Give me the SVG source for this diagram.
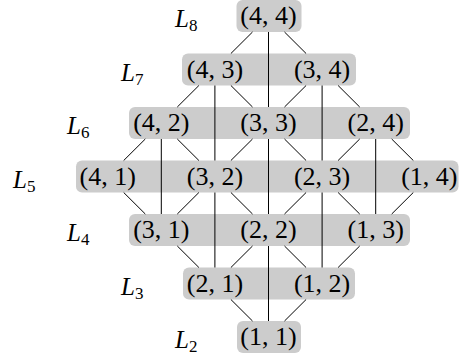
<svg xmlns="http://www.w3.org/2000/svg" width="459" height="360" viewBox="0 0 459 360">
<style>
.band{fill:#cccccc;}
.e{stroke:#000;stroke-width:1;fill:none;}
.t{font-family:"Liberation Serif","DejaVu Serif",serif;font-size:26px;text-anchor:middle;fill:#000;}
.lab{font-family:"Liberation Serif","DejaVu Serif",serif;font-size:25px;font-style:italic;fill:#000;}
.sub{font-size:17px;font-style:normal;}
</style>
<rect width="459" height="360" fill="#fff"/>
<g id="bands">
<rect class="band" x="236.5" y="0" width="65" height="32" rx="6"/>
<rect class="band" x="182" y="53.5" width="174" height="32" rx="6"/>
<rect class="band" x="129" y="107" width="281" height="32" rx="6"/>
<rect class="band" x="76" y="160.5" width="382.5" height="32" rx="6"/>
<rect class="band" x="129" y="214" width="281" height="32" rx="6"/>
<rect class="band" x="183" y="267.5" width="172" height="32" rx="6"/>
<rect class="band" x="237" y="321" width="64" height="32" rx="6"/>
</g>
<g id="connectors">
<line class="e" x1="252.5" y1="32" x2="230.9" y2="53.5"/>
<line class="e" x1="284.5" y1="32" x2="306.1" y2="53.5"/>
<line class="e" x1="268.5" y1="32" x2="268.5" y2="107"/>
<line class="e" x1="198.9" y1="85.5" x2="177.3" y2="107"/>
<line class="e" x1="230.9" y1="85.5" x2="252.5" y2="107"/>
<line class="e" x1="306.1" y1="85.5" x2="284.5" y2="107"/>
<line class="e" x1="338.1" y1="85.5" x2="359.7" y2="107"/>
<line class="e" x1="214.9" y1="85.5" x2="214.9" y2="160.5"/>
<line class="e" x1="322.1" y1="85.5" x2="322.1" y2="160.5"/>
<line class="e" x1="145.3" y1="139" x2="123.7" y2="160.5"/>
<line class="e" x1="177.3" y1="139" x2="198.9" y2="160.5"/>
<line class="e" x1="252.5" y1="139" x2="230.9" y2="160.5"/>
<line class="e" x1="284.5" y1="139" x2="306.1" y2="160.5"/>
<line class="e" x1="359.7" y1="139" x2="338.1" y2="160.5"/>
<line class="e" x1="391.7" y1="139" x2="413.3" y2="160.5"/>
<line class="e" x1="161.3" y1="139" x2="161.3" y2="214"/>
<line class="e" x1="268.5" y1="139" x2="268.5" y2="214"/>
<line class="e" x1="375.7" y1="139" x2="375.7" y2="214"/>
<line class="e" x1="123.7" y1="192.5" x2="145.3" y2="214"/>
<line class="e" x1="198.9" y1="192.5" x2="177.3" y2="214"/>
<line class="e" x1="230.9" y1="192.5" x2="252.5" y2="214"/>
<line class="e" x1="306.1" y1="192.5" x2="284.5" y2="214"/>
<line class="e" x1="338.1" y1="192.5" x2="359.7" y2="214"/>
<line class="e" x1="413.3" y1="192.5" x2="391.7" y2="214"/>
<line class="e" x1="214.9" y1="192.5" x2="214.9" y2="267.5"/>
<line class="e" x1="322.1" y1="192.5" x2="322.1" y2="267.5"/>
<line class="e" x1="177.3" y1="246" x2="198.9" y2="267.5"/>
<line class="e" x1="252.5" y1="246" x2="230.9" y2="267.5"/>
<line class="e" x1="284.5" y1="246" x2="306.1" y2="267.5"/>
<line class="e" x1="359.7" y1="246" x2="338.1" y2="267.5"/>
<line class="e" x1="268.5" y1="246" x2="268.5" y2="321"/>
<line class="e" x1="230.9" y1="299.5" x2="252.5" y2="321"/>
<line class="e" x1="306.1" y1="299.5" x2="284.5" y2="321"/>
</g>
<g id="n44"><text class="t" x="268.5" y="24">(4, 4)</text></g>
<g id="n43"><text class="t" x="214.9" y="77.5">(4, 3)</text></g>
<g id="n34"><text class="t" x="322.1" y="77.5">(3, 4)</text></g>
<g id="n42"><text class="t" x="161.3" y="131">(4, 2)</text></g>
<g id="n33"><text class="t" x="268.5" y="131">(3, 3)</text></g>
<g id="n24"><text class="t" x="375.7" y="131">(2, 4)</text></g>
<g id="n41"><text class="t" x="107.7" y="184.5">(4, 1)</text></g>
<g id="n32"><text class="t" x="214.9" y="184.5">(3, 2)</text></g>
<g id="n23"><text class="t" x="322.1" y="184.5">(2, 3)</text></g>
<g id="n14"><text class="t" x="429.3" y="184.5">(1, 4)</text></g>
<g id="n31"><text class="t" x="161.3" y="238">(3, 1)</text></g>
<g id="n22"><text class="t" x="268.5" y="238">(2, 2)</text></g>
<g id="n13"><text class="t" x="375.7" y="238">(1, 3)</text></g>
<g id="n21"><text class="t" x="214.9" y="291.5">(2, 1)</text></g>
<g id="n12"><text class="t" x="322.1" y="291.5">(1, 2)</text></g>
<g id="n11"><text class="t" x="268.5" y="345">(1, 1)</text></g>
<g id="labels">
<text class="lab" x="175" y="27">L<tspan class="sub" dy="4">8</tspan></text>
<text class="lab" x="121" y="80.5">L<tspan class="sub" dy="4">7</tspan></text>
<text class="lab" x="67" y="134">L<tspan class="sub" dy="4">6</tspan></text>
<text class="lab" x="13" y="188">L<tspan class="sub" dy="4">5</tspan></text>
<text class="lab" x="67" y="241">L<tspan class="sub" dy="4">4</tspan></text>
<text class="lab" x="121" y="294.5">L<tspan class="sub" dy="4">3</tspan></text>
<text class="lab" x="175" y="348">L<tspan class="sub" dy="4">2</tspan></text>
</g>
</svg>
